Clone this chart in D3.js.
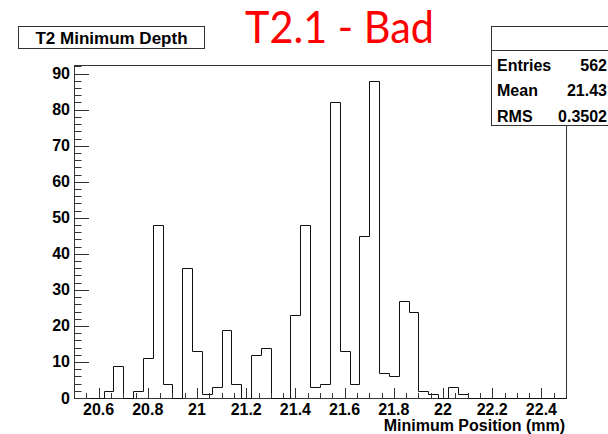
<!DOCTYPE html>
<html>
  <head>
    <style>
      body { margin: 0; background: #fff; }
      .lbl { font: bold 16px "Liberation Sans", Arial, sans-serif; fill: #000; }
      .frame { fill: none; stroke: #333; stroke-width: 1; }
    </style>
  </head>
  <body>
    <div id="chart"></div>
    <script src="https://d3js.org/d3.v7.min.js"></script>
    <script>
      // histogram definition: 50 bins of 0.04 mm starting at 20.5
      const xMin = 20.5;
      const binWidth = 0.04;
      const counts = [
        0, 0, 0, 2, 9, 0, 2, 11, 48, 4,
        0, 36, 13, 1, 3, 19, 4, 0, 12, 14,
        0, 0, 23, 48, 3, 4, 82, 13, 4, 45,
        88, 7, 6, 27, 24, 2, 1, 0, 3, 1,
        0, 0, 0, 0, 0, 0, 0, 0, 0, 0
      ];
      const xTicks = [20.6, 20.8, 21, 21.2, 21.4, 21.6, 21.8, 22, 22.2, 22.4];
      const yTicks = [0, 10, 20, 30, 40, 50, 60, 70, 80, 90];
      const statNames = ["Entries", "Mean", "RMS"];
      const statValues = ["562", "21.43", "0.3502"];

      const W = 608, H = 434;
      const pL = 74, pR = 566, pT = 65, pB = 398;

      const svg = d3.select("#chart").append("svg")
        .attr("width", W).attr("height", H);

      const x = d3.scaleLinear().domain([20.5, 22.5]).range([pL, pR]);
      const y = d3.scaleLinear().domain([0, 92.4]).range([pB, pT]);

      // frame
      svg.append("rect").attr("class", "frame")
        .attr("x", pL + 0.5).attr("y", pT + 0.5)
        .attr("width", pR - pL).attr("height", pB - pT);

      // histogram outline
      let pts = [[x(xMin), y(0)]];
      counts.forEach((c, i) => {
        const lo = xMin + i * binWidth, hi = lo + binWidth;
        pts.push([x(lo), y(c)], [x(hi), y(c)]);
      });
      pts.push([x(xMin + counts.length * binWidth), y(0)]);
      svg.append("path")
        .attr("d", d3.line()(pts.map(p => [Math.round(p[0]) + 0.5, Math.round(p[1]) + 0.5])))
        .attr("fill", "none").attr("stroke", "#111").attr("stroke-width", 1);

      // x ticks
      const xMinor = d3.range(0, 41).map(i => 20.5 + i * 0.05).filter(v => v > 20.5 && v < 22.5);
      svg.selectAll(".xt").data(xMinor).enter().append("line")
        .attr("x1", d => Math.round(x(d)) + 0.5).attr("x2", d => Math.round(x(d)) + 0.5)
        .attr("y1", pB + 0.5)
        .attr("y2", d => pB - (xTicks.some(t => Math.abs(t - d) < 1e-6) ? 10 : 5))
        .attr("stroke", "#333");
      svg.selectAll(".xl").data(xTicks).enter().append("text")
        .attr("class", "lbl").attr("text-anchor", "middle")
        .attr("x", d => x(d)).attr("y", 415)
        .text(d => d);

      // y ticks
      const yMinor = d3.range(0, 47).map(i => i * 2).filter(v => v <= 92);
      svg.selectAll(".yt").data(yMinor).enter().append("line")
        .attr("y1", d => Math.round(y(d)) + 0.5).attr("y2", d => Math.round(y(d)) + 0.5)
        .attr("x1", pL + 0.5)
        .attr("x2", d => pL + (d % 10 === 0 ? 15 : 7.5))
        .attr("stroke", "#333");
      svg.selectAll(".yl").data(yTicks).enter().append("text")
        .attr("class", "lbl").attr("text-anchor", "end")
        .attr("x", 70).attr("y", d => y(d) + 5.5)
        .text(d => d);

      // axis title
      svg.append("text").attr("class", "lbl").attr("text-anchor", "end")
        .attr("x", 565).attr("y", 431).text("Minimum Position (mm)");

      // histogram title box
      svg.append("rect").attr("x", 18.5).attr("y", 26.5).attr("width", 186).attr("height", 22)
        .attr("fill", "#fff").attr("stroke", "#333");
      svg.append("text").attr("class", "lbl").attr("text-anchor", "middle")
        .style("font-size", "17px")
        .attr("x", 111.5).attr("y", 43.5).text("T2 Minimum Depth");

      // stats box
      svg.append("rect").attr("x", 491.5).attr("y", 26.5).attr("width", 140).attr("height", 99)
        .attr("fill", "#fff").attr("stroke", "#333");
      svg.append("line").attr("x1", 491.5).attr("x2", 620).attr("y1", 50.5).attr("y2", 50.5)
        .attr("stroke", "#333");
      statNames.forEach((n, i) => {
        const by = 70.5 + i * 25.5;
        svg.append("text").attr("class", "lbl").attr("x", 497).attr("y", by).text(n);
        svg.append("text").attr("class", "lbl").attr("text-anchor", "end")
          .attr("x", 607).attr("y", by).text(statValues[i]);
      });

      // slide title
      svg.append("text")
        .attr("x", 245).attr("y", 43)
        .attr("textLength", 189).attr("lengthAdjust", "spacingAndGlyphs")
        .style("font", "44px Lato, 'Open Sans', sans-serif")
        .attr("fill", "#ff0000")
        .text("T2.1 - Bad");
    </script>
  </body>
</html>
